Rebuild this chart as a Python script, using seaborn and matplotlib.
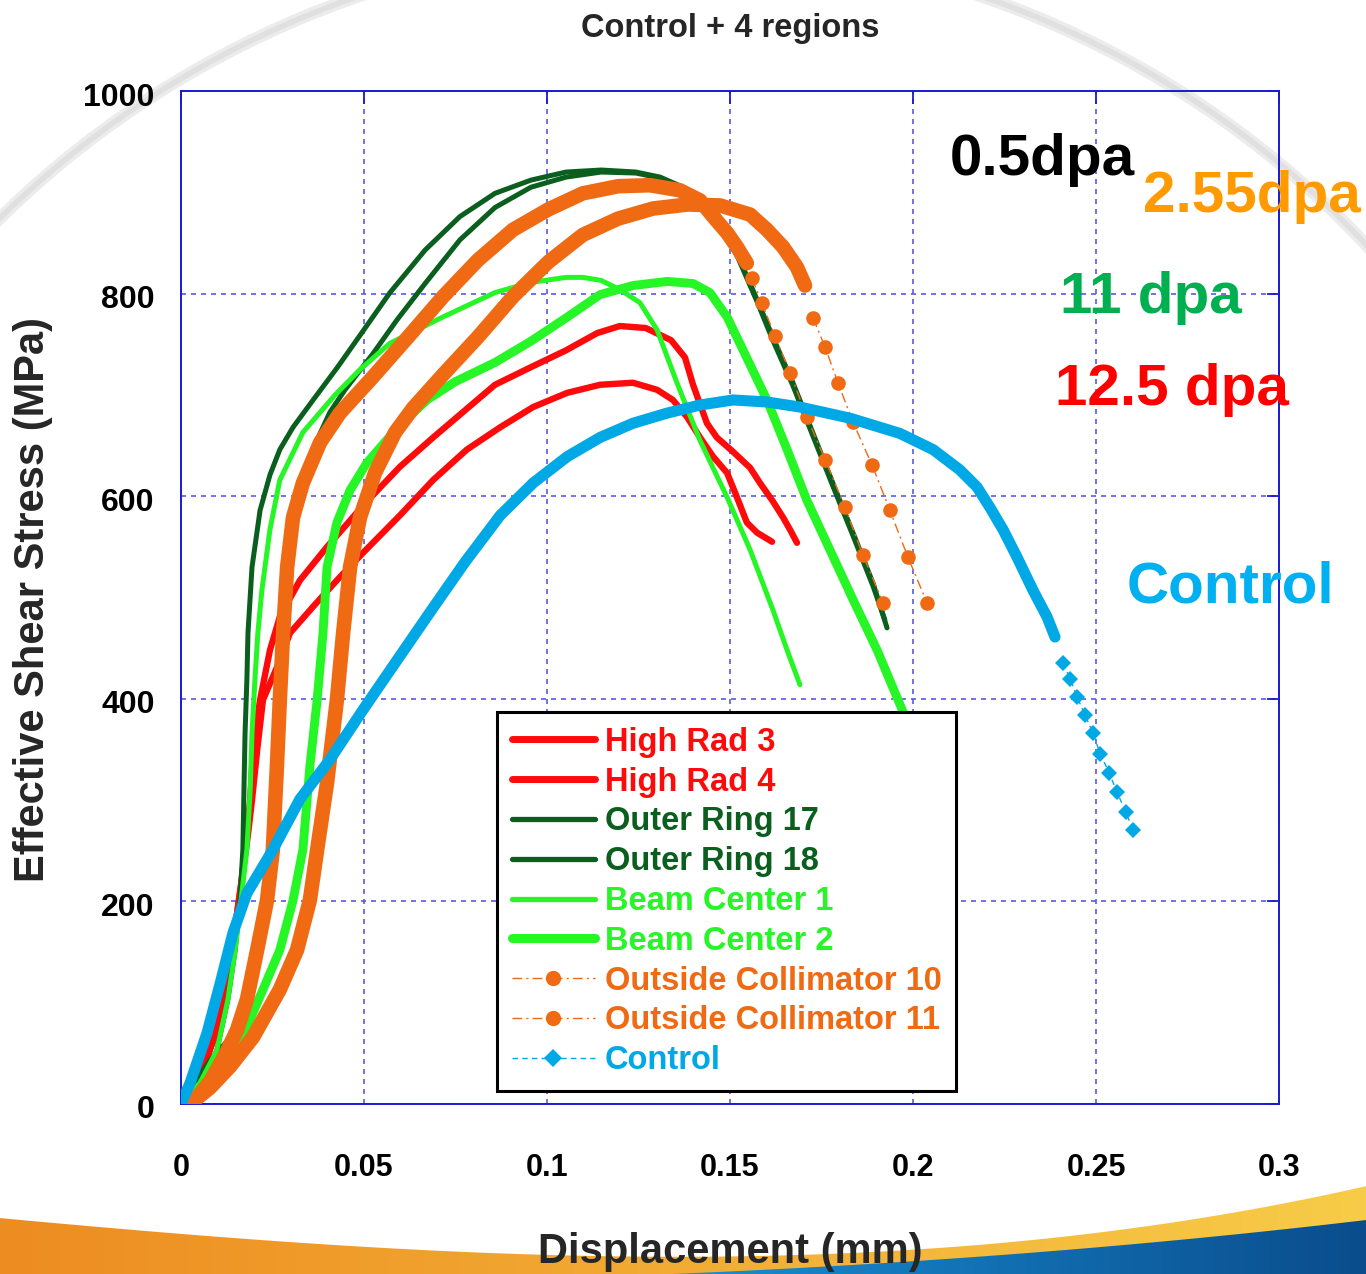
import numpy as np
import matplotlib
matplotlib.use("Agg")
import matplotlib.pyplot as plt
from matplotlib.lines import Line2D
from matplotlib.patches import Arc, Polygon
from matplotlib.transforms import ScaledTranslation
import seaborn as sns

# ---------------- shear punch curves: displacement (mm) / stress (MPa) ----------------
hr3_x = [0, 0.0052, 0.0093, 0.0123, 0.0145, 0.0164, 0.0178, 0.0189, 0.0197, 0.0216, 0.0243,
         0.0270, 0.0325, 0.0399, 0.0503, 0.0598, 0.0689, 0.0858, 0.0954, 0.1052, 0.1137,
         0.1199, 0.1270, 0.1339, 0.1377, 0.1399, 0.1437, 0.1464, 0.1508, 0.1555, 0.1582,
         0.1617, 0.1645, 0.1664, 0.1683]
hr3_y = [0, 26, 68, 117, 167, 216, 261, 300, 349, 399, 448,
         481, 517, 550, 593, 629, 658, 710, 727, 744, 761,
         768, 766, 754, 737, 710, 672, 658, 644, 628, 613,
         595, 579, 567, 554]

hr4_x = [0, 0.0052, 0.0093, 0.0123, 0.0145, 0.0164, 0.0183, 0.0194, 0.0208, 0.0224, 0.0262,
         0.0298, 0.0361, 0.0426, 0.0497, 0.0598, 0.0689, 0.0781, 0.0872, 0.0962, 0.1055,
         0.1145, 0.1235, 0.1301, 0.1344, 0.1383, 0.1418, 0.1454, 0.1492, 0.1519, 0.1546,
         0.1574, 0.1615]
hr4_y = [0, 26, 68, 117, 167, 216, 266, 300, 349, 399, 431,
         465, 491, 517, 544, 581, 616, 646, 668, 688, 702,
         710, 712, 705, 695, 678, 658, 639, 623, 599, 574,
         564, 555]

or17_x = [0, 0.0052, 0.0098, 0.0128, 0.0148, 0.0161, 0.0169, 0.0172, 0.0175, 0.0180, 0.0183,
          0.0194, 0.0216, 0.0243, 0.0270, 0.0306, 0.0361, 0.0429, 0.0505, 0.0571, 0.0667,
          0.0762, 0.0858, 0.0956, 0.1052, 0.1148, 0.1243, 0.1309, 0.1372, 0.1418, 0.1459,
          0.1492, 0.1527, 0.1574, 0.1617, 0.1672, 0.1727, 0.1781, 0.1836, 0.1891, 0.1929]
or17_y = [0, 19, 53, 103, 152, 201, 251, 310, 366, 419, 465,
          530, 586, 621, 646, 668, 695, 728, 767, 801, 843,
          876, 899, 912, 920, 922, 920, 915, 905, 895, 883,
          863, 833, 794, 757, 712, 662, 613, 564, 514, 470]

or18_x = [0, 0.0079, 0.0153, 0.0180, 0.0208, 0.0230, 0.0243, 0.0257, 0.0265, 0.0273, 0.0284,
          0.0301, 0.0325, 0.0366, 0.0407, 0.0448, 0.0525, 0.0590, 0.0667, 0.0762, 0.0858,
          0.0956, 0.1052, 0.1148, 0.1243, 0.1309, 0.1372, 0.1418, 0.1459, 0.1492, 0.1527,
          0.1574, 0.1617, 0.1672, 0.1727, 0.1781, 0.1836, 0.1891, 0.1923]
or18_y = [0, 43, 73, 103, 152, 201, 251, 333, 399, 465, 530,
          579, 613, 651, 683, 705, 741, 774, 810, 853, 885,
          905, 915, 920, 919, 914, 904, 894, 881, 861, 831,
          792, 754, 709, 659, 610, 561, 511, 478]

bc1_x = [0, 0.0052, 0.0098, 0.0128, 0.0148, 0.0164, 0.0180, 0.0189, 0.0194, 0.0202, 0.0210,
         0.0221, 0.0243, 0.0270, 0.0333, 0.0421, 0.0489, 0.0571, 0.0716, 0.0858, 0.0956,
         0.1052, 0.1098, 0.1148, 0.1199, 0.1254, 0.1301, 0.1355, 0.1418, 0.1492, 0.1555,
         0.1617, 0.1656, 0.1691]
bc1_y = [0, 21, 53, 103, 152, 201, 251, 310, 366, 419, 465,
         507, 567, 616, 663, 700, 725, 751, 777, 801, 811,
         816, 816, 813, 804, 791, 764, 712, 655, 599, 547,
         488, 448, 414]

bc2_x = [0, 0.0066, 0.0134, 0.0180, 0.0224, 0.0270, 0.0306, 0.0333, 0.0352, 0.0372, 0.0388,
         0.0399, 0.0426, 0.0462, 0.0508, 0.0590, 0.0672, 0.0749, 0.0858, 0.0956, 0.1052,
         0.1145, 0.1235, 0.1328, 0.1399, 0.1445, 0.1492, 0.1536, 0.1601, 0.1656, 0.1710,
         0.1773, 0.1836, 0.1902, 0.1973, 0.2005]
bc2_y = [0, 16, 43, 76, 113, 152, 201, 251, 333, 399, 465,
         530, 574, 606, 633, 667, 695, 713, 732, 753, 776,
         799, 808, 812, 810, 801, 777, 744, 695, 646, 596,
         547, 498, 448, 387, 359]

oc10_x = [0, 0.0038, 0.0079, 0.0120, 0.0153, 0.0180, 0.0208, 0.0235, 0.0251, 0.0262, 0.0270,
          0.0279, 0.0290, 0.0306, 0.0333, 0.0380, 0.0434, 0.0525, 0.0620, 0.0716, 0.0811,
          0.0907, 0.1003, 0.1098, 0.1194, 0.1281, 0.1363, 0.1418, 0.1454, 0.1492, 0.1519,
          0.1546]
oc10_y = [0, 4, 22, 48, 73, 103, 152, 201, 251, 333, 399,
          465, 530, 579, 613, 653, 682, 718, 757, 797, 833,
          863, 883, 899, 906, 907, 902, 892, 876, 860, 846,
          830]
oc10_tail_x = [0.1560, 0.1587, 0.1623, 0.1664, 0.1710, 0.1760, 0.1814, 0.1863, 0.1918]
oc10_tail_y = [815, 791, 758, 722, 678, 636, 589, 542, 495]

oc11_x = [0, 0.0038, 0.0079, 0.0134, 0.0197, 0.0270, 0.0317, 0.0352, 0.0372, 0.0399, 0.0426,
          0.0443, 0.0462, 0.0489, 0.0530, 0.0585, 0.0634, 0.0716, 0.0811, 0.0907, 0.1003,
          0.1098, 0.1194, 0.1290, 0.1385, 0.1473, 0.1555, 0.1601, 0.1645, 0.1683, 0.1705]
oc11_y = [0, 4, 16, 37, 66, 113, 152, 201, 251, 317, 399,
          465, 530, 579, 623, 663, 687, 720, 757, 797, 831,
          858, 874, 884, 888, 887, 878, 863, 846, 826, 808]
oc11_tail_x = [0.1727, 0.1760, 0.1795, 0.1836, 0.1888, 0.1937, 0.1986, 0.2038]
oc11_tail_y = [776, 747, 712, 673, 631, 586, 540, 495]

ctrl_x = [0, 0.0025, 0.0071, 0.0107, 0.0142, 0.0180, 0.0251, 0.0325, 0.0407, 0.0497, 0.0590,
          0.0689, 0.0776, 0.0872, 0.0962, 0.1055, 0.1145, 0.1235, 0.1328, 0.1418, 0.1508,
          0.1601, 0.1691, 0.1828, 0.1964, 0.2055, 0.2128, 0.2175, 0.2210, 0.2246, 0.2284,
          0.2328, 0.2366, 0.2388]
ctrl_y = [0, 21, 70, 119, 169, 208, 251, 301, 340, 389, 438,
          490, 535, 581, 613, 639, 658, 672, 682, 690, 695,
          693, 688, 677, 662, 646, 626, 609, 589, 567, 540,
          507, 481, 461]
ctrl_tail_x = [0.2410, 0.2429, 0.2448, 0.2470, 0.2492, 0.2511, 0.2536, 0.2557, 0.2582, 0.2601]
ctrl_tail_y = [435, 420, 402, 384, 366, 346, 327, 308, 288, 270]

series_names = ["High Rad 3", "High Rad 4", "Outer Ring 17", "Outer Ring 18",
                "Beam Center 1", "Beam Center 2", "Outside Collimator 10",
                "Outside Collimator 11", "Control"]

x_ticks = [0, 0.05, 0.1, 0.15, 0.2, 0.25, 0.3]
x_tick_labels = ["0", "0.05", "0.1", "0.15", "0.2", "0.25", "0.3"]
y_ticks = [0, 200, 400, 600, 800, 1000]
y_tick_labels = ["0", "200", "400", "600", "800", "1000"]

dose_labels = ["0.5dpa", "2.55dpa", "11 dpa", "12.5 dpa", "Control"]

# ---------------- styling ----------------
RED = "#ff0a0a"
DKGREEN = "#0a5f1e"
LIME = "#26f526"
ORANGE = "#f06a14"
CYAN = "#00a9e6"
AXBLUE = "#1a1ad2"
GRIDBLUE = "#5a5ae6"

sns.set_style("white")
plt.rcParams["font.family"] = ["Liberation Sans", "DejaVu Sans"]
plt.rcParams["font.weight"] = "bold"

W, H = 1366, 1274
fig = plt.figure(figsize=(W / 100, H / 100), dpi=100, facecolor="white")

# ---- slide backdrop: faint ring and coloured swoosh along the bottom ----
bg = fig.add_axes([0, 0, 1, 1], zorder=0)
bg.set_axis_off()
bg.add_patch(Arc((670, 900), 1912, 1912, theta1=0, theta2=360,
                 color="#ececec", lw=9))
bg.add_patch(Arc((670, 900), 1912, 1912, theta1=0, theta2=360,
                 color="#e0e0e0", lw=4))


def swoosh(top_pts, c0, c1, x0, x1):
    px, py = zip(*top_pts)
    coef = np.polyfit(px, py, 3)
    xs = np.linspace(x0, x1, 200)
    ys = np.polyval(coef, xs)
    verts = list(zip(xs, ys)) + [(x1, H + 5), (x0, H + 5)]
    poly = Polygon(verts, closed=True, facecolor="none", edgecolor="none")
    bg.add_patch(poly)
    t = np.linspace(0, 1, 256)[:, None]
    img = (1 - t) * np.array(c0) + t * np.array(c1)
    im = bg.imshow(img[None, :, :], extent=(x0, x1, H + 5, ys.min() - 5),
                   aspect="auto", interpolation="bilinear")
    im.set_clip_path(poly)


swoosh([(0, 1218), (300, 1243), (600, 1256), (900, 1250), (1100, 1233), (1366, 1186)],
       (0.93, 0.55, 0.13), (0.97, 0.80, 0.28), 0, W)
swoosh([(620, 1276), (800, 1268), (1000, 1255), (1200, 1238), (1366, 1220)],
       (0.10, 0.58, 0.85), (0.04, 0.30, 0.55), 620, W)
bg.set_xlim(0, W)
bg.set_ylim(H, 0)

# ---- main plot ----
ax = fig.add_axes([181 / W, 1 - 1104 / H, 1098 / W, 1013 / H], zorder=1)
ax.set_facecolor("none")


def curve(x, y, color, lw, z):
    sns.lineplot(x=x, y=y, ax=ax, color=color, linewidth=lw, sort=False,
                 estimator=None, legend=False, zorder=z,
                 solid_capstyle="round", solid_joinstyle="round")


def tail(x, y, color, marker, ms, ls, z):
    sns.lineplot(x=x, y=y, ax=ax, color=color, linewidth=1.0, linestyle=ls,
                 marker=marker, markersize=ms, markeredgewidth=0, sort=False,
                 estimator=None, legend=False, zorder=z)


curve(hr3_x, hr3_y, RED, 4.6, 3)
curve(hr4_x, hr4_y, RED, 4.6, 4)
curve(or17_x, or17_y, DKGREEN, 3.6, 5)
curve(or18_x, or18_y, DKGREEN, 3.6, 6)
curve(bc1_x, bc1_y, LIME, 3.6, 7)
curve(bc2_x, bc2_y, LIME, 6.4, 8)
curve(oc10_x, oc10_y, ORANGE, 10.5, 9)
tail(oc10_tail_x, oc10_tail_y, ORANGE, "o", 10.5, (0, (7, 3, 1.5, 3)), 9)
curve(oc11_x, oc11_y, ORANGE, 10.5, 10)
tail(oc11_tail_x, oc11_tail_y, ORANGE, "o", 10.5, (0, (7, 3, 1.5, 3)), 10)
curve(ctrl_x, ctrl_y, CYAN, 8.0, 11)
tail(ctrl_tail_x, ctrl_tail_y, CYAN, "D", 8.5, (0, (4, 3)), 11)

ax.set_xlim(0, 0.3)
ax.set_ylim(0, 1000)
ax.set_xticks(x_ticks)
ax.set_xticklabels(x_tick_labels)
ax.set_yticks(y_ticks)
ax.set_yticklabels(y_tick_labels)
ax.set_xlabel("")
ax.set_ylabel("")
ax.tick_params(direction="in", length=9, width=1.3, color=AXBLUE,
               top=True, right=True, labelcolor="black")
ax.tick_params(axis="x", pad=35, labelsize=22)
ax.tick_params(axis="y", pad=19, labelsize=23)
shift_down = ScaledTranslation(0, -3 / 100, fig.dpi_scale_trans)
for lab in ax.get_yticklabels():
    lab.set_fontweight("bold")
    lab.set_transform(lab.get_transform() + shift_down)
for lab in ax.get_xticklabels():
    lab.set_fontweight("bold")
ax.set_axisbelow(True)
ax.grid(True, color=GRIDBLUE, linestyle=(0, (3, 3)), linewidth=1.2)
for s in ax.spines.values():
    s.set_visible(True)
    s.set_color(AXBLUE)
    s.set_linewidth(1.4)

# ---- legend ----
handles = [
    Line2D([], [], color=RED, lw=5),
    Line2D([], [], color=RED, lw=5),
    Line2D([], [], color=DKGREEN, lw=3.8),
    Line2D([], [], color=DKGREEN, lw=3.8),
    Line2D([], [], color=LIME, lw=3.8),
    Line2D([], [], color=LIME, lw=6.5),
    Line2D([], [], color=ORANGE, lw=1.0, ls=(0, (7, 3, 1.5, 3)), marker="o", ms=11, mew=0),
    Line2D([], [], color=ORANGE, lw=1.0, ls=(0, (7, 3, 1.5, 3)), marker="o", ms=11, mew=0),
    Line2D([], [], color=CYAN, lw=1.0, ls=(0, (4, 3)), marker="D", ms=9, mew=0),
]
text_colors = [RED, RED, DKGREEN, DKGREEN, LIME, LIME, ORANGE, ORANGE, CYAN]
leg = ax.legend(handles, series_names, loc="upper left",
                bbox_to_anchor=((497 - 181) / 1098, (1104 - 712) / 1013),
                borderaxespad=0, borderpad=0.45, handlelength=2.55,
                handletextpad=0.3, labelspacing=0.27, fancybox=False,
                framealpha=1, edgecolor="black",
                prop={"size": 23.5, "weight": "bold"})
leg.get_frame().set_linewidth(2.2)
leg.set_zorder(20)
for t, c in zip(leg.get_texts(), text_colors):
    t.set_color(c)

# ---- titles and dose annotations ----
fig.text(730 / W, 1 - 37 / H, "Control + 4 regions", ha="center", va="baseline",
         fontsize=23.5, fontweight="bold")
fig.text(730 / W, 1 - 1263 / H, "Displacement (mm)", ha="center", va="baseline",
         fontsize=30, fontweight="bold")
fig.text(33 / W, 1 - 600 / H, "Effective Shear Stress (MPa)", ha="center", va="center",
         rotation=90, fontsize=30, fontweight="bold")

dose_pos = [(950, 175), (1143, 212), (1060, 313), (1055, 405), (1127, 603)]
dose_cols = ["black", "#ff9a00", "#00b050", "#ff0000", "#00b0f0"]
for txt, (px, py), col in zip(dose_labels, dose_pos, dose_cols):
    fig.text(px / W, 1 - py / H, txt, ha="left", va="baseline", fontsize=42,
             fontweight="bold", color=col, zorder=30)

fig.savefig("out.png", dpi=100, facecolor="white")
